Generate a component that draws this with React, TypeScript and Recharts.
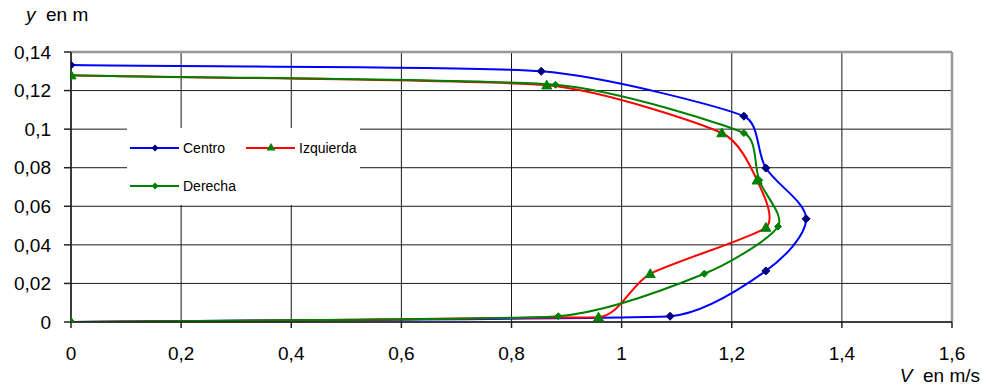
import React from "react";
import {
  LineChart,
  Line,
  XAxis,
  YAxis,
  CartesianGrid,
  ReferenceLine,
} from "recharts";

// velocidad (m/s) y altura (m)
const centroV = [0, 1.088, 1.262, 1.335, 1.262, 1.222, 0.854, 0];
const centroY = [0, 0.003, 0.0265, 0.0535, 0.0798, 0.1067, 0.13, 0.1332];
const izquierdaV = [0, 0.958, 1.052, 1.262, 1.246, 1.182, 0.864, 0];
const izquierdaY = [0, 0.0025, 0.025, 0.049, 0.0735, 0.098, 0.1228, 0.128];
const derechaV = [0, 0.885, 1.15, 1.284, 1.25, 1.222, 0.88, 0];
const derechaY = [0, 0.003, 0.025, 0.0495, 0.0735, 0.098, 0.123, 0.128];

const xTicks = [0, 0.2, 0.4, 0.6, 0.8, 1, 1.2, 1.4, 1.6];
const yTicks = [0, 0.02, 0.04, 0.06, 0.08, 0.1, 0.12, 0.14];

const toRows = (vs: number[], ys: number[]) =>
  vs.map((v, i) => ({ v, y: ys[i] }));

const centro = toRows(centroV, centroY);
const izquierda = toRows(izquierdaV, izquierdaY);
const derecha = toRows(derechaV, derechaY);

const fmt = (n: number) => String(n).replace(".", ",");
const FONT = "'Liberation Sans', Arial, sans-serif";

// Excel-like smoothing: bezier through every point, handle length
// limited by the shorter neighbouring segment so long runs stay flat
const smooth = (context: any) => {
  let pts: number[][] = [];
  const dist = (a: number[], b: number[]) => Math.hypot(b[0] - a[0], b[1] - a[1]);
  return {
    areaStart() {},
    areaEnd() {},
    lineStart() {
      pts = [];
    },
    point(x: number, y: number) {
      pts.push([+x, +y]);
    },
    lineEnd() {
      const n = pts.length;
      if (!n) return;
      const tan = pts.map((p, i) => {
        const a = pts[i - 1] || p;
        const b = pts[i + 1] || p;
        const d = dist(a, p) + dist(p, b) || 1;
        return [(b[0] - a[0]) / d, (b[1] - a[1]) / d];
      });
      const reach = pts.map((p, i) => {
        const ds: number[] = [];
        if (pts[i - 1]) ds.push(dist(pts[i - 1], p));
        if (pts[i + 1]) ds.push(dist(p, pts[i + 1]));
        return Math.min(...ds) / 3;
      });
      context.moveTo(pts[0][0], pts[0][1]);
      for (let i = 0; i < n - 1; i++) {
        const p1 = pts[i];
        const p2 = pts[i + 1];
        const d1 = reach[i];
        const d2 = reach[i + 1];
        context.bezierCurveTo(
          p1[0] + tan[i][0] * d1,
          p1[1] + tan[i][1] * d1,
          p2[0] - tan[i + 1][0] * d2,
          p2[1] - tan[i + 1][1] * d2,
          p2[0],
          p2[1]
        );
      }
    },
  };
};

const Diamond = (r: number, fill: string) => (props: any) => {
  const { cx, cy, index } = props;
  if (cx == null || cy == null) return <g key={index} />;
  return (
    <path
      key={index}
      d={`M${cx},${cy - r}L${cx + r},${cy}L${cx},${cy + r}L${cx - r},${cy}Z`}
      fill={fill}
      stroke={fill}
    />
  );
};

const Triangle = (r: number, fill: string) => (props: any) => {
  const { cx, cy, index } = props;
  if (cx == null || cy == null) return <g key={index} />;
  return (
    <path
      key={index}
      d={`M${cx},${cy - r}L${cx + r},${cy + r * 0.75}L${cx - r},${cy + r * 0.75}Z`}
      fill={fill}
      stroke={fill}
    />
  );
};

const legendItems = [
  { name: "Centro", color: "#0000ff", marker: "diamond", mark: "#000080", x: 3, y: 20 },
  { name: "Izquierda", color: "#ff0000", marker: "triangle", mark: "#008000", x: 119, y: 20 },
  { name: "Derecha", color: "#008000", marker: "diamond", mark: "#008000", x: 3, y: 58 },
];

const LegendBox = () => (
  <svg width={233} height={77} style={{ display: "block" }}>
    <rect x={0} y={0} width={233} height={77} fill="#fff" />
    {legendItems.map((it) => (
      <g key={it.name}>
        <line x1={it.x} x2={it.x + 49} y1={it.y} y2={it.y} stroke={it.color} strokeWidth={2} />
        {it.marker === "diamond" ? (
          <path
            d={`M${it.x + 25},${it.y - 3.5}l3.5,3.5l-3.5,3.5l-3.5,-3.5Z`}
            fill={it.mark}
          />
        ) : (
          <path d={`M${it.x + 25},${it.y - 5}l4.5,7.5h-9Z`} fill={it.mark} />
        )}
        <text x={it.x + 53} y={it.y + 5} fontSize={14} fontFamily={FONT} fill="#000">
          {it.name}
        </text>
      </g>
    ))}
  </svg>
);

export default function App() {
  return (
    <div
      style={{
        position: "absolute",
        left: 0,
        top: 0,
        width: 982,
        height: 392,
        background: "#fff",
        fontFamily: FONT,
      }}
    >
      <LineChart
        width={982}
        height={392}
        margin={{ top: 52, right: 30, bottom: 0, left: 0 }}
      >
        <CartesianGrid stroke="#1a1a1a" strokeWidth={1} />
        <XAxis
          dataKey="v"
          type="number"
          domain={[0, 1.6]}
          ticks={xTicks}
          tickFormatter={fmt}
          height={70}
          tickSize={6}
          tickMargin={19}
          stroke="#222"
          strokeWidth={1.5}
          tick={{ fill: "#000", fontSize: 19, fontFamily: FONT }}
          allowDataOverflow
        />
        <YAxis
          dataKey="y"
          type="number"
          domain={[0, 0.14]}
          ticks={yTicks}
          tickFormatter={fmt}
          width={71}
          tickSize={7}
          tickMargin={13}
          stroke="#222"
          strokeWidth={1.5}
          tick={{ fill: "#000", fontSize: 19, fontFamily: FONT }}
          allowDataOverflow
        />
        <ReferenceLine y={0.14} stroke="#999" strokeWidth={2.5} />
        <ReferenceLine x={1.6} stroke="#999" strokeWidth={2.5} />
        <Line
          data={centro}
          dataKey="y"
          name="Centro"
          type={smooth as any}
          stroke="#0000ff"
          strokeWidth={2}
          dot={Diamond(4, "#000080")}
          activeDot={false}
          isAnimationActive={false}
        />
        <Line
          data={izquierda}
          dataKey="y"
          name="Izquierda"
          type={smooth as any}
          stroke="#ff0000"
          strokeWidth={2}
          dot={Triangle(5, "#008000")}
          activeDot={false}
          isAnimationActive={false}
        />
        <Line
          data={derecha}
          dataKey="y"
          name="Derecha"
          type={smooth as any}
          stroke="#008000"
          strokeWidth={2}
          dot={Diamond(3.5, "#008000")}
          activeDot={false}
          isAnimationActive={false}
        />
      </LineChart>
      <div style={{ position: "absolute", left: 127, top: 128 }}>
        <LegendBox />
      </div>
      <div style={{ position: "absolute", left: 26, top: 4, fontSize: 19, color: "#000", whiteSpace: "pre" }}>
        <i>y</i>  en m
      </div>
      <div style={{ position: "absolute", right: 2, top: 365, fontSize: 19, color: "#000", whiteSpace: "pre" }}>
        <i>V</i>  en m/s
      </div>
    </div>
  );
}
